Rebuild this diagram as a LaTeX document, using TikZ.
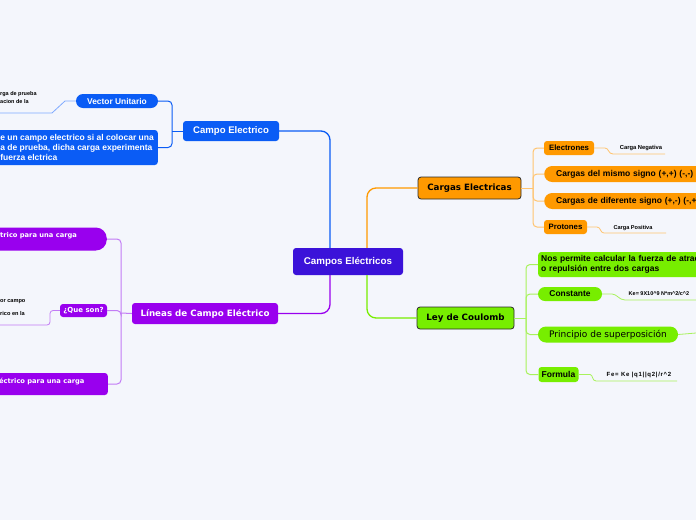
\documentclass[tikz,border=0pt]{standalone}
\usepackage{fontspec}
\setmainfont{Liberation Sans}
\newfontfamily\verd{DejaVu Sans}
\newfontfamily\spaced[LetterSpace=12]{Liberation Sans}
\definecolor{bg}{HTML}{F4F6FC}
\definecolor{cen}{HTML}{3B12D9}
\definecolor{blu}{HTML}{0A5CF5}
\definecolor{lblu}{HTML}{7FAAFF}
\definecolor{pur}{HTML}{9900EE}
\definecolor{lpur}{HTML}{C27CF5}
\definecolor{ora}{HTML}{FF9900}
\definecolor{lora}{HTML}{FFC470}
\definecolor{grn}{HTML}{77EE00}
\definecolor{lgrn}{HTML}{A8F25C}
\definecolor{dk}{HTML}{2A2A2A}
\tikzset{
  box/.style={rectangle, rounded corners=3pt, inner sep=0pt, align=center, text=white},
  main/.style={line width=1.3pt, rounded corners=9pt},
  sub/.style={line width=1pt, rounded corners=4pt},
  leaf/.style={line width=0.8pt},
  tiny/.style={inner sep=0pt, text=black, font=\bfseries\fontsize{5.6}{8}\selectfont},
}
\begin{document}
\begin{tikzpicture}[x=1pt,y=-1pt]
\path[use as bounding box, fill=bg] (0,0) rectangle (696,520);
\clip (0,0) rectangle (696,520);

% central
\node[box, fill=cen, minimum width=110, minimum height=27, font=\bfseries\fontsize{9.8}{12}\selectfont] (C) at (348,261.5) {Campos Eléctricos};

% blue branch
\node[box, fill=blu, minimum width=96, minimum height=20, font=\bfseries\fontsize{9.6}{12}\selectfont] (CE) at (231,131) {Campo Electrico};
\node[box, fill=blu, rounded corners=7pt, minimum width=82, minimum height=14, font=\bfseries\fontsize{8.4}{10}\selectfont] (VU) at (117,101) {Vector Unitario};
\node[box, fill=blu, anchor=east, inner xsep=4pt, minimum height=35, align=left, font=\bfseries\fontsize{8.5}{9.6}\selectfont] (Def) at (158,147.5) {e un campo electrico si al colocar una\\a de prueba, dicha carga experimenta\\fuerza elctrica};
\node[tiny, anchor=west, align=left, font=\bfseries\fontsize{5.5}{8}\selectfont] (VUt) at (0,97.5) {rga de prueba\\acion de la};
\coordinate (jb) at (172,131);
\coordinate (VUend) at (0,113);
\draw[blu, main] ([xshift=-18pt]C.north) |- (CE.east);
\draw[blu, sub] (VU.east) -| (jb) |- (Def.east);
\draw[blu, sub] (CE.west) -- (jb);
\draw[lblu, leaf] (VU.west) -- (65,101) -- (52,113) -- (VUend);

% purple branch
\node[box, fill=pur, minimum width=146, minimum height=21, font=\verd\bfseries\fontsize{8.7}{11}\selectfont] (L) at (205,313.5) {Líneas de Campo Eléctrico};
\node[box, fill=pur, rounded corners=11pt, anchor=east, minimum width=140, minimum height=23] (PT) at (107,239) {};
\node[anchor=base west, inner sep=0pt, text=white, font=\verd\bfseries\fontsize{6.7}{8}\selectfont] (PTt) at (0,237.3) {trico para una carga};
\node[box, fill=pur, anchor=east, minimum width=140, minimum height=22] (PB) at (108,384) {};
\node[anchor=base west, inner sep=0pt, text=white, font=\verd\bfseries\fontsize{6.7}{8}\selectfont] (PBt) at (-1,383.3) {éctrico para una carga};
\node[box, fill=pur, minimum width=47, minimum height=13, font=\verd\bfseries\fontsize{7}{9}\selectfont] (QS) at (83.5,310.5) {¿Que son?};
\node[tiny, anchor=base west] (QSa) at (0,302.3) {or campo};
\node[tiny, anchor=base west] (QSb) at (0,315.8) {rico en la};
\coordinate (jp) at (121,313);
\coordinate (QSend) at (0,325);
\draw[pur, main] ([xshift=-18pt]C.south) |- (L.east);
\draw[lpur, sub] (PT.east) -| (jp) |- (PB.east);
\draw[lpur, sub] (L.west) -- (jp);
\draw[lpur, sub] (jp) |- (QS.east);
\draw[lpur, leaf, rounded corners=3pt] (QS.west) -- (50,310.5) |- (QSend);

% orange branch
\node[box, fill=ora, draw=dk, line width=0.8pt, text=black, minimum width=103, minimum height=22, font=\verd\bfseries\fontsize{8.7}{11}\selectfont] (CA) at (469.5,188) {Cargas Electricas};
\node[box, fill=ora, text=black, minimum width=50, minimum height=14, font=\bfseries\fontsize{7.8}{10}\selectfont] (El) at (569,148) {Electrones};
\node[box, fill=ora, text=black, rounded corners=8pt, anchor=west, inner xsep=12pt, text width=170pt, minimum height=16, align=left, font=\bfseries\fontsize{8.5}{10}\selectfont] (Mis) at (544,174) {Cargas del mismo signo (+,+) (-,-)};
\node[box, fill=ora, text=black, rounded corners=8pt, anchor=west, inner xsep=12pt, text width=170pt, minimum height=16, align=left, font=\bfseries\fontsize{8.5}{10}\selectfont] (Dif) at (544,201) {Cargas de diferente signo (+,-) (-,+)};
\node[box, fill=ora, text=black, minimum width=43, minimum height=14, font=\bfseries\fontsize{7.8}{10}\selectfont] (Pro) at (565.5,227) {Protones};
\node[tiny, font=\bfseries\fontsize{5.8}{8}\selectfont] (Neg) at (641,148) {Carga Negativa};
\node[tiny] (Pos) at (633,228) {Carga Positiva};
\coordinate (jo) at (533,188);
\coordinate (Negend) at (665,154);
\coordinate (Posend) at (666,233);
\draw[ora, main] ([xshift=19pt]C.north) |- (CA.west);
\draw[lora, sub] (El.west) -| (jo) |- (Pro.west);
\draw[lora, sub] (CA.east) -- (jo);
\draw[lora, sub] (jo) |- (Mis.west);
\draw[lora, sub] (jo) |- (Dif.west);
\draw[lora, leaf] (El.east) -- (605,148) .. controls (609,148) and (608,154) .. (613,154) -- (Negend);
\draw[lora, leaf] (Pro.east) -- (597,227) .. controls (601,227) and (600,233) .. (604,233) -- (Posend);

% green branch
\node[box, fill=grn, draw=dk, line width=0.8pt, text=black, minimum width=97, minimum height=22, font=\verd\bfseries\fontsize{8.7}{11}\selectfont] (Ley) at (465.5,318) {Ley de Coulomb};
\node[box, fill=grn, text=black, anchor=west, inner xsep=3pt, text width=170pt, minimum height=25, align=left, font=\bfseries\fontsize{8.5}{10}\selectfont] (Nos) at (538,264.5) {Nos permite calcular la fuerza de atrac\\o repulsión entre dos cargas};
\node[box, fill=grn, text=black, rounded corners=7pt, minimum width=64, minimum height=14, font=\bfseries\fontsize{8.4}{10}\selectfont] (Con) at (570,294) {Constante};
\node[box, fill=grn, text=black, rounded corners=8pt, minimum width=140, minimum height=16, font=\verd\fontsize{9}{11}\selectfont] (Pri) at (608,334.5) {Principio de superposición};
\node[box, fill=grn, text=black, minimum width=40, minimum height=15, font=\bfseries\fontsize{8.5}{10}\selectfont] (For) at (558.5,374.5) {Formula};
\node[tiny, font=\bfseries\fontsize{5.5}{8}\selectfont] (Ke) at (659,294) {Ke= 9X10\^{}9 N*m\^{}2/c\^{}2};
\node[tiny, font=\spaced\bfseries\fontsize{6}{8}\selectfont] (Fe) at (639,375) {Fe= Ke |q1||q2|/r\^{}2};
\coordinate (jg) at (526,318);
\coordinate (Keend) at (696,300);
\coordinate (Priend) at (696,333);
\coordinate (Feend) at (677,381);
\draw[grn, main] ([xshift=19pt]C.south) |- (Ley.west);
\draw[lgrn, sub] (Nos.west) -| (jg) |- (For.west);
\draw[lgrn, sub] (Ley.east) -- (jg);
\draw[lgrn, sub] (jg) |- (Con.west);
\draw[lgrn, sub] (jg) |- (Pri.west);
\draw[lgrn, leaf] (Con.east) -- (612,294) .. controls (617,294) and (619,300) .. (625,300) -- (Keend);
\draw[lgrn, leaf] (Pri.east) -- (Priend);
\draw[lgrn, leaf] (For.east) -- (590,374.5) .. controls (593,374.5) and (592,381) .. (596,381) -- (Feend);
\end{tikzpicture}
\end{document}
